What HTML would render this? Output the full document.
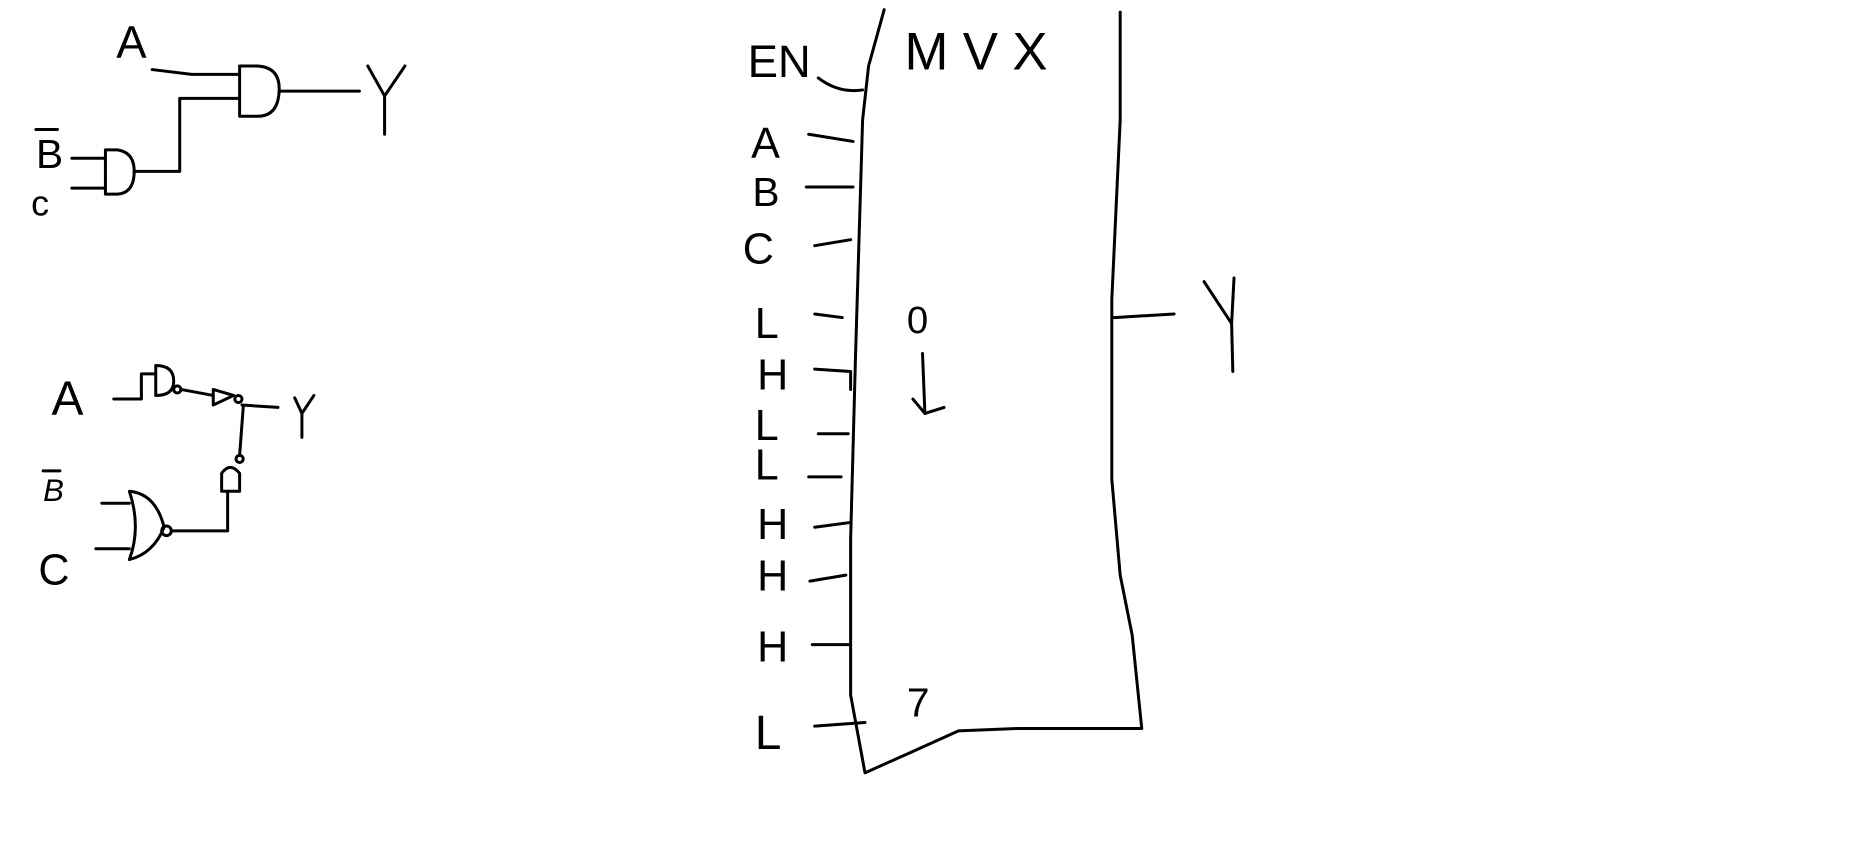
<!DOCTYPE html>
<html><head><meta charset="utf-8"><style>
html,body{margin:0;padding:0;background:#fff;width:1857px;height:846px;overflow:hidden}
svg{display:block}
text{font-family:"Liberation Sans",sans-serif;fill:#000;font-weight:normal}
</style></head><body>
<svg width="1857" height="846" viewBox="0 0 1550 706" xmlns="http://www.w3.org/2000/svg">
<g fill="none" stroke="#000" stroke-width="2.5" stroke-linecap="round" stroke-linejoin="round">
 <!-- top-left circuit -->
 <g>
  <polyline points="127,58 160,62 200,62"/>
  <path d="M200,55 L215,55 Q234,56 233,76 Q232,97 215,97 L200,97 Z"/>
  <polyline points="233,76 300,76"/>
  <polyline points="307,55 321,80 338,55"/><polyline points="321,80 321,112"/>
  <polyline points="60,132 88,132"/><polyline points="60,157 88,157"/>
  <path d="M88,125 L98,125 Q112,127 112,143 Q112,161 98,162 L88,162 Z"/>
  <polyline points="112,143 150,143 150,82 200,82"/>
  <line x1="30" y1="108" x2="48" y2="108"/>
 </g>
 <!-- bottom-left circuit -->
 <g>
  <polyline points="95,333 118,333 118,312 130,312"/>
  <path d="M130,305 Q145,305 145,318 Q145,330 130,330 Z"/>
  <circle cx="148" cy="325" r="3"/>
  <polyline points="151,325 178,330"/>
  <path d="M178,325 L195,330 L178,338 Z"/><circle cx="199" cy="333" r="3"/>
  <polyline points="202,338 232,340"/>
  <polyline points="246,332 252,345 262,330"/><polyline points="252,345 252,365"/>
  <line x1="36" y1="393" x2="50" y2="393"/>
  <polyline points="85,420 108,420"/><polyline points="80,458 108,458"/>
  <path d="M108,410 Q130,412 137,440 Q128,462 108,467 Q118,440 108,410 Z"/>
  <circle cx="139" cy="443" r="4"/>
  <polyline points="143,443 190,443 190,410"/>
  <path d="M185,410 L185,395 Q192,385 200,395 L200,410 Z"/><circle cx="200" cy="383" r="3"/>
  <polyline points="200,380 203,340"/>
 </g>
 <!-- mux block -->
 <g>
  <polyline points="738,8 725,55 720,100 714,300 710,450 710,580 722,645 760,628 800,610 850,608 953,608 945,530 935,480 928,400 928,250 935,100 935,10"/>
  <path d="M683,65 Q700,78 720,75"/>
  <polyline points="675,112 712,118"/>
  <polyline points="673,156 712,156"/>
  <polyline points="680,205 710,200"/>
  <polyline points="680,262 703,265"/>
  <polyline points="680,308 710,310 710,325"/>
  <polyline points="683,362 708,362"/>
  <polyline points="675,398 702,398"/>
  <polyline points="680,440 710,436"/>
  <polyline points="676,485 706,480"/>
  <polyline points="678,538 708,538"/>
  <polyline points="680,606 722,603"/>
  <polyline points="770,295 772,345"/><polyline points="762,333 772,345 788,340"/>
  <polyline points="930,265 980,262"/>
  <polyline points="1005,235 1028,270 1030,232"/><polyline points="1028,270 1029,310"/>
 </g>
</g>
<g font-size="38">
 <text x="97" y="48">A</text>
 <text x="30" y="140" font-size="34">B</text>
 <text x="26" y="180" font-size="30">c</text>
 <text x="43" y="346" font-size="40">A</text>
 <text x="36" y="418" font-size="26" font-style="italic">B</text>
 <text x="32" y="488" font-size="36">C</text>
 <text x="624" y="64" font-size="38">EN</text>
 <text x="755" y="58" font-size="44" letter-spacing="12">MVX</text>
 <text x="627" y="132" font-size="36">A</text>
 <text x="628" y="172" font-size="34">B</text>
 <text x="620" y="220" font-size="36">C</text>
 <text x="630" y="282" font-size="36">L</text>
 <text x="632" y="325" font-size="36">H</text>
 <text x="630" y="367" font-size="36">L</text>
 <text x="630" y="400" font-size="36">L</text>
 <text x="632" y="450" font-size="36">H</text>
 <text x="632" y="493" font-size="36">H</text>
 <text x="632" y="552" font-size="36">H</text>
 <text x="630" y="625" font-size="40">L</text>
 <text x="757" y="278" font-size="32">0</text>
 <text x="757" y="598" font-size="34">7</text>
</g>
</svg>
</body></html>
